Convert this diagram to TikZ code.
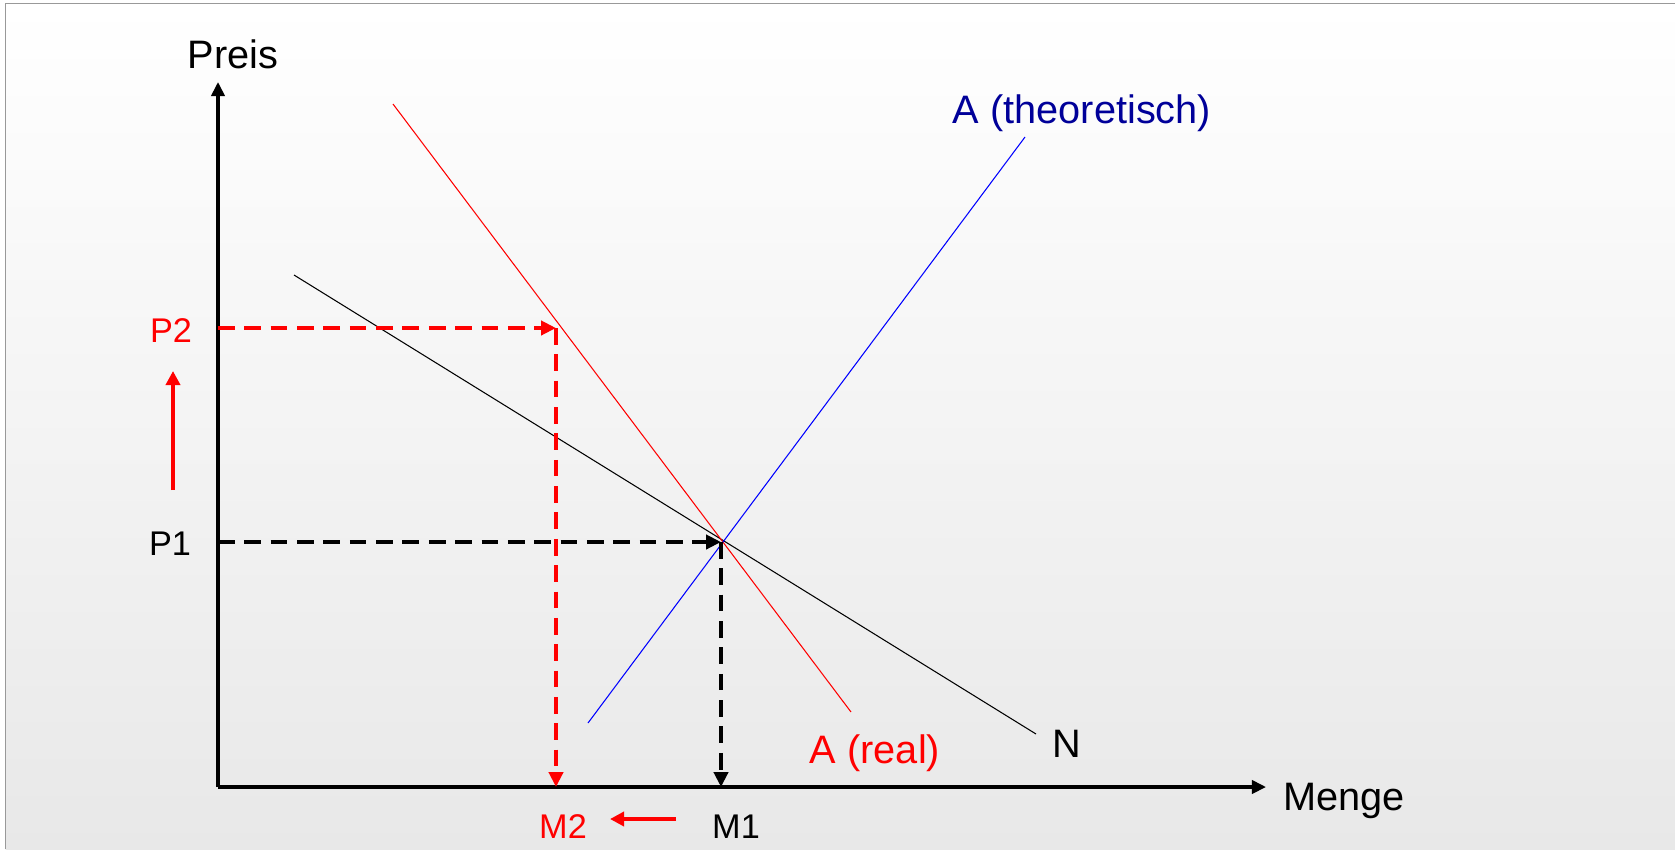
\documentclass[tikz,border=0pt]{standalone}
\usepackage{fontspec}
\setmainfont{Liberation Sans}
\usetikzlibrary{arrows.meta}

\definecolor{theo}{RGB}{0,0,153}

\begin{document}
\begin{tikzpicture}[
    x=0.02cm, y=-0.02cm,
    lbl/.style={anchor=base, inner sep=0pt, font=\fontsize{22.6}{26}\selectfont},
    tick/.style={anchor=base, inner sep=0pt, font=\fontsize{19.5}{23}\selectfont},
    axis/.style={line width=1.9pt, -{Triangle[length=8pt,width=7.5pt]}},
    curve/.style={line width=0.6pt},
    guide/.style={line width=2.3pt, dash pattern=on 9.5pt off 5.5pt,
                  -{Triangle[length=8.5pt,width=8pt]}},
    move/.style={red, line width=2pt, -{Triangle[length=8pt,width=8pt]}},
  ]

  % --- Slide background -------------------------------------------------
  \useasboundingbox (0,0) rectangle (1675,849);
  \shade[top color=white, bottom color=black!9] (5.5,3.5) rectangle (1675,849);
  \draw[black!40, line width=0.9pt] (5.5,849) -- (5.5,3.5) -- (1675,3.5);

  % --- Axes -------------------------------------------------------------
  \coordinate (O) at (218,787);
  \coordinate (ytop) at (218,82);
  \coordinate (xend) at (1266,787);
  \draw[axis] (O) -- (ytop);
  \draw[axis] (O) -- (xend);
  \node[lbl] (preis) at (233,68) {Preis};
  \node[lbl, anchor=base west] (menge) at (1283,810) {Menge};

  % --- Curves -----------------------------------------------------------
  \coordinate (N-a) at (294,275);  \coordinate (N-b) at (1036,734);
  \coordinate (Ar-a) at (393,104); \coordinate (Ar-b) at (851,712);
  \coordinate (At-a) at (588,723); \coordinate (At-b) at (1025,137);
  \draw[curve] (N-a) -- (N-b);
  \draw[curve, red] (Ar-a) -- (Ar-b);
  \draw[curve, blue] (At-a) -- (At-b);
  \node[lbl] (nlbl) at (1067,757) {N};
  \node[lbl, red] (arlbl) at (875,763) {A (real)};
  \node[lbl, text=theo] (atlbl) at (1082,123) {A (theoretisch)};

  % --- Equilibria -------------------------------------------------------
  \coordinate (E1) at (721,542);
  \coordinate (E2) at (556,328);
  \draw[guide] (O |- E1) -- (E1);
  \draw[guide] (E1) -- (E1 |- O);
  \draw[guide, red] (O |- E2) -- (E2);
  \draw[guide, red] (E2) -- (E2 |- O);

  \node[tick] (p1) at (170,555) {P1};
  \node[tick, red] (p2) at (171,342) {P2};
  \node[tick] (m1) at (736,838) {M1};
  \node[tick, red] (m2) at (563,838) {M2};

  % --- Shifts -----------------------------------------------------------
  \coordinate (pup-a) at (173,490);  \coordinate (pup-b) at (173,371);
  \coordinate (mdn-a) at (676,819);  \coordinate (mdn-b) at (610,819);
  \draw[move] (pup-a) -- (pup-b);
  \draw[move] (mdn-a) -- (mdn-b);

\end{tikzpicture}
\end{document}
